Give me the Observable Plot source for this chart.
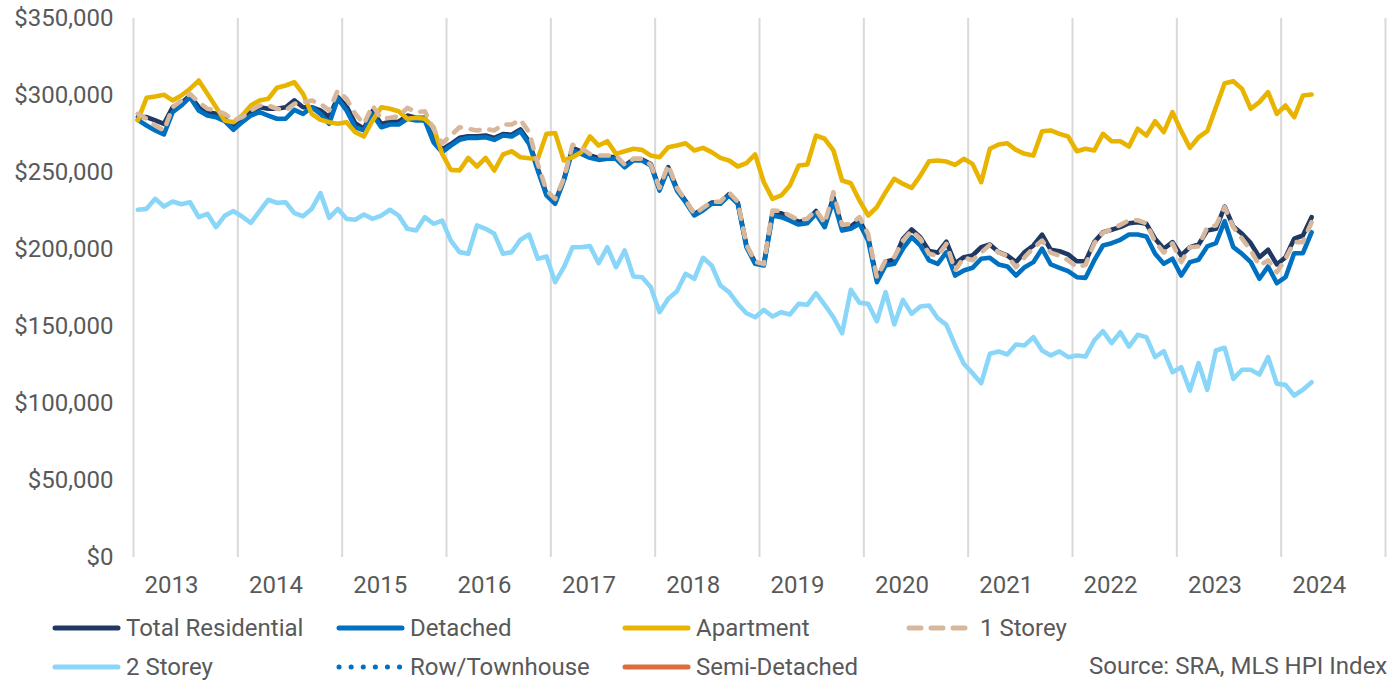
<!DOCTYPE html>
<html>
<head>
<meta charset="utf-8">
<script src="https://cdn.jsdelivr.net/npm/d3@7"></script>
<script src="https://cdn.jsdelivr.net/npm/@observablehq/plot@0.6"></script>
<style>
  html, body { margin: 0; padding: 0; background: #fff; overflow: hidden; }
  #wrap { position: relative; width: 1393px; height: 684px; overflow: hidden; font-family: Roboto, "Noto Sans", sans-serif; }
  .item { position: absolute; height: 28px; display: flex; align-items: center; font-size: 24px; color: #595959; white-space: nowrap; }
  .item svg { margin-right: 4px; }
  #source { position: absolute; left: 1089px; top: 652px; font-size: 24px; line-height: 28px; color: #595959; white-space: nowrap; }
</style>
</head>
<body>
<div id="wrap"></div>
<script>
// ---- data (values in $ thousands), monthly from Jan 2013 ----
const startYear = 2013;
const yearLabels = [2013, 2014, 2015, 2016, 2017, 2018, 2019, 2020, 2021, 2022, 2023, 2024];
const yTicks = [0, 50, 100, 150, 200, 250, 300, 350];

const totalResidential = [
  286.0, 286.0, 283.8, 281.6, 292.4, 295.0, 300.0, 292.4, 289.2, 288.1, 284.9, 279.4,
  283.8, 289.2, 292.4, 291.4, 291.4, 292.4, 296.8, 292.4, 292.4, 290.3, 286.0, 298.9,
  293.0, 282.0, 278.5, 290.0, 281.5, 283.0, 283.0, 287.0, 285.5, 285.5, 272.0, 265.0,
  268.5, 272.5, 273.5, 273.5, 274.0, 272.5, 275.0, 274.5, 278.0, 270.0, 252.5, 236.0,
  231.0, 245.5, 266.0, 263.5, 261.0, 259.5, 260.0, 260.0, 254.5, 258.5, 258.5, 255.5,
  239.5, 253.5, 239.5, 231.5, 223.0, 226.5, 230.5, 230.5, 236.0, 230.5, 202.5, 191.5,
  190.5, 224.0, 223.5, 221.0, 218.0, 219.0, 225.0, 216.0, 234.0, 214.5, 215.0, 219.0,
  208.0, 180.5, 192.0, 193.5, 207.0, 213.0, 208.0, 199.0, 198.0, 205.0, 191.0, 195.0,
  196.1, 201.5, 203.2, 198.3, 196.1, 191.8, 198.3, 202.6, 209.7, 199.8, 198.9, 196.8,
  192.4, 192.4, 204.8, 211.2, 212.8, 214.5, 217.1, 217.7, 216.7, 207.0, 200.5, 204.8,
  196.1, 201.5, 203.2, 212.3, 213.4, 227.9, 214.9, 210.2, 204.1, 195.0, 199.8, 190.3,
  195.0, 207.0, 209.1, 221.0
];
const detached = [
  284.2, 280.5, 277.3, 274.7, 289.2, 293.5, 298.9, 290.3, 287.0, 285.9, 283.3, 277.7,
  282.7, 287.0, 289.2, 287.0, 284.9, 284.9, 290.7, 288.1, 292.4, 288.1, 281.6, 297.9,
  290.3, 279.4, 277.3, 287.7, 279.4, 281.2, 281.2, 284.9, 283.8, 283.8, 269.7, 263.2,
  267.5, 271.2, 272.5, 272.5, 272.9, 271.2, 274.0, 273.4, 276.8, 268.6, 251.3, 235.1,
  229.7, 244.8, 264.3, 262.1, 259.5, 258.2, 258.9, 258.9, 253.4, 257.8, 257.8, 254.5,
  238.3, 252.4, 238.3, 230.7, 222.1, 225.3, 229.7, 229.7, 235.1, 229.7, 201.5, 190.7,
  189.6, 222.1, 221.0, 218.8, 216.2, 217.1, 223.2, 214.5, 231.8, 212.3, 213.4, 216.7,
  205.8, 178.8, 189.6, 190.7, 200.5, 208.0, 202.6, 192.9, 190.7, 198.3, 183.1, 186.4,
  188.1, 194.0, 194.6, 190.3, 189.0, 183.1, 188.5, 191.8, 200.5, 190.3, 188.1, 185.9,
  182.0, 181.6, 192.9, 202.6, 204.1, 206.3, 209.7, 209.7, 208.4, 197.2, 190.7, 194.0,
  183.1, 191.8, 193.3, 202.0, 204.1, 218.4, 201.5, 197.2, 191.8, 181.0, 189.0, 178.1,
  182.0, 197.6, 197.6, 211.2
];
const apartment = [
  283.8, 298.5, 299.4, 300.5, 296.8, 300.0, 304.3, 309.7, 301.1, 292.4, 283.8, 282.7,
  287.0, 293.5, 296.8, 297.9, 305.0, 306.5, 308.6, 301.1, 288.1, 284.2, 282.7, 281.6,
  282.7, 276.2, 273.4, 283.8, 292.4, 291.4, 289.8, 284.9, 285.5, 284.9, 279.4, 262.1,
  251.7, 251.3, 259.5, 253.9, 259.5, 251.3, 261.7, 263.8, 259.9, 259.3, 258.9, 275.1,
  275.6, 257.8, 259.9, 263.2, 273.4, 267.5, 270.3, 262.1, 263.8, 265.4, 264.7, 261.0,
  259.9, 266.4, 267.5, 269.0, 264.3, 266.0, 263.2, 259.5, 257.8, 253.9, 256.1, 261.7,
  243.7, 232.9, 235.1, 241.6, 254.5, 255.2, 274.0, 271.9, 264.3, 244.8, 243.0, 231.8,
  222.1, 227.5, 237.2, 245.9, 242.6, 240.0, 248.0, 257.3, 257.8, 257.1, 255.0, 258.9,
  255.6, 243.7, 265.4, 268.2, 269.0, 264.7, 262.1, 261.0, 276.8, 277.3, 275.1, 273.4,
  263.8, 265.4, 264.3, 275.1, 270.3, 270.3, 266.9, 278.4, 274.0, 283.3, 276.2, 289.2,
  277.0, 266.0, 272.9, 276.8, 292.4, 307.9, 309.3, 304.3, 291.4, 295.7, 302.2, 288.1,
  293.5, 285.9, 300.0, 300.6
];
const oneStorey = [
  288.1, 284.9, 280.5, 277.3, 292.4, 296.8, 301.1, 295.7, 291.4, 290.3, 288.1, 283.8,
  286.0, 290.3, 293.5, 293.5, 291.4, 290.3, 294.6, 295.7, 296.8, 294.6, 290.3, 303.2,
  297.9, 288.1, 281.6, 293.5, 284.9, 285.5, 286.4, 292.0, 289.2, 289.8, 278.4, 269.0,
  274.0, 279.4, 278.4, 277.3, 278.4, 277.3, 281.2, 281.2, 284.2, 276.2, 255.6, 238.3,
  232.9, 246.0, 268.0, 266.0, 262.0, 261.0, 261.0, 261.0, 255.0, 259.0, 259.0, 255.0,
  240.0, 255.0, 240.0, 232.0, 223.0, 227.0, 231.0, 231.0, 237.0, 231.0, 203.0, 192.0,
  190.5, 225.3, 225.0, 222.0, 219.0, 220.0, 225.8, 217.0, 237.2, 216.0, 216.5, 221.0,
  210.0, 182.0, 193.0, 195.0, 205.8, 212.3, 207.0, 197.2, 196.0, 203.7, 186.4, 195.0,
  193.0, 198.0, 203.0, 198.0, 196.0, 188.5, 195.0, 201.0, 205.8, 198.0, 196.0, 193.0,
  188.5, 190.0, 204.0, 211.0, 213.0, 216.0, 219.0, 219.0, 217.0, 205.0, 198.0, 204.0,
  191.8, 201.5, 202.0, 214.5, 215.6, 227.5, 214.5, 207.0, 199.4, 189.6, 192.9, 185.3,
  194.0, 204.8, 204.8, 217.7
];
const twoStorey = [
  225.8, 226.4, 232.9, 227.9, 231.2, 229.4, 230.7, 221.0, 223.2, 214.5, 222.0, 224.9,
  221.4, 217.3, 224.9, 232.3, 230.3, 230.7, 223.6, 221.6, 226.4, 236.6, 220.6, 226.4,
  219.9, 219.3, 222.7, 219.9, 222.0, 225.8, 222.0, 213.4, 212.3, 221.0, 216.7, 218.8,
  205.8, 198.3, 197.2, 215.6, 213.4, 210.2, 197.2, 198.3, 206.3, 209.7, 194.0, 195.5,
  178.8, 188.5, 201.5, 201.5, 202.2, 191.1, 201.5, 188.5, 199.4, 182.5, 182.0, 175.5,
  159.3, 168.0, 172.9, 184.2, 181.0, 194.6, 189.6, 176.6, 172.3, 164.7, 158.6, 156.0,
  160.8, 156.5, 159.3, 157.8, 164.7, 164.1, 171.6, 164.1, 156.0, 145.6, 173.8, 165.4,
  164.7, 153.4, 172.3, 151.3, 167.3, 158.2, 163.0, 163.6, 155.4, 151.1, 137.7, 125.8,
  119.7, 113.2, 132.3, 133.8, 131.8, 138.3, 137.7, 143.1, 134.4, 131.2, 133.8, 130.1,
  131.2, 130.5, 140.9, 147.0, 139.2, 146.3, 137.0, 144.6, 143.1, 130.1, 134.0, 120.3,
  123.6, 108.4, 126.2, 108.9, 134.4, 136.2, 116.0, 121.9, 121.9, 118.8, 130.1, 112.8,
  112.1, 105.2, 108.9, 113.8
];
const rowTownhouse = [];
const semiDetached = [];

const seriesNames = ["Total Residential", "Detached", "Apartment", "1 Storey", "2 Storey", "Row/Townhouse", "Semi-Detached"];
const seriesValues = [totalResidential, detached, apartment, oneStorey, twoStorey, rowTownhouse, semiDetached];
const seriesColors = ["#203864", "#0070C0", "#E9B400", "#D7B89C", "#8AD6F8", "#0070C0", "#DE6B3A"];
const seriesDash = [null, null, null, "9,10", null, "1,8", null];

// month position: centre of each month category
const toRows = (vals) => vals.map((v, i) => ({ x: startYear + (i + 0.5) / 12, v }));

const gridYears = d3.range(startYear, startYear + yearLabels.length + 1);
const labelOffset = 0.365; // where Excel places each year label inside its year band

const lineMarks = seriesValues.map((vals, k) =>
  Plot.line(toRows(vals), {
    x: "x", y: "v",
    stroke: seriesColors[k],
    strokeWidth: 4.6,
    strokeDasharray: seriesDash[k] || undefined,
    strokeLinejoin: "round",
    strokeLinecap: "round"
  })
);

const chart = Plot.plot({
  width: 1393,
  height: 600,
  marginLeft: 133,
  marginRight: 8,
  marginTop: 18,
  marginBottom: 43,
  style: { fontFamily: "Roboto, 'Noto Sans', sans-serif", fontSize: "24px", color: "#595959", background: "#fff", overflow: "visible" },
  x: {
    domain: [startYear, startYear + yearLabels.length],
    ticks: yearLabels.map(y => y + labelOffset),
    tickFormat: d => String(Math.floor(d)),
    tickSize: 0,
    tickPadding: 18,
    label: null
  },
  y: {
    domain: [0, 350],
    ticks: yTicks,
    tickFormat: d => "$" + d3.format(",")(d * 1000),
    tickSize: 0,
    tickPadding: 20,
    label: null
  },
  marks: [
    Plot.ruleX(gridYears, { stroke: "#D9D9D9", strokeWidth: 2 }),
    ...lineMarks
  ]
});

const wrap = document.getElementById("wrap");
wrap.appendChild(chart);

// ---- legend ----
const legendPos = [
  [52, 628], [336, 628], [622, 628], [906, 628],
  [52, 667], [336, 667], [622, 667]
];
const legendOrder = [0, 1, 2, 3, 4, 5, 6];
legendOrder.forEach((k, j) => {
  const [lx, ly] = legendPos[j];
  const div = document.createElement("div");
  div.className = "item";
  div.style.left = lx + "px";
  div.style.top = (ly - 14) + "px";
  const ns = "http://www.w3.org/2000/svg";
  const s = document.createElementNS(ns, "svg");
  s.setAttribute("width", 70);
  s.setAttribute("height", 10);
  const l = document.createElementNS(ns, "line");
  l.setAttribute("x1", 3); l.setAttribute("x2", 66);
  l.setAttribute("y1", 5); l.setAttribute("y2", 5);
  l.setAttribute("stroke", seriesColors[k]);
  l.setAttribute("stroke-width", 5);
  l.setAttribute("stroke-linecap", "round");
  if (k === 3) l.setAttribute("stroke-dasharray", "12,10");
  if (k === 5) l.setAttribute("stroke-dasharray", "0.1,12");
  s.appendChild(l);
  div.appendChild(s);
  const t = document.createElement("span");
  t.textContent = seriesNames[k];
  div.appendChild(t);
  wrap.appendChild(div);
});

const src = document.createElement("div");
src.id = "source";
src.textContent = "Source: SRA, MLS HPI Index";
wrap.appendChild(src);
</script>
</body>
</html>
